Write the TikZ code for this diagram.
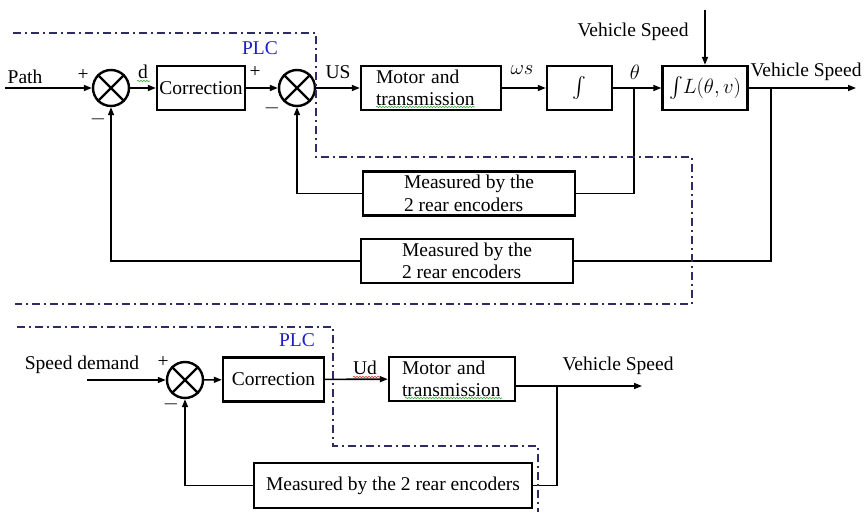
\documentclass[tikz,border=0pt]{standalone}
\usepackage{amsmath}
\usepackage{fontspec}
\setmainfont{Liberation Serif}
\usetikzlibrary{arrows.meta,decorations.pathmorphing}
\definecolor{plcblue}{RGB}{30,30,200}
\definecolor{plcline}{RGB}{45,45,100}
\definecolor{squiggreen}{RGB}{70,170,70}
\definecolor{squigred}{RGB}{210,60,60}
\begin{document}
\begin{tikzpicture}[x=1pt,y=-1pt,
    every node/.style={font=\fontsize{19.5}{22.5}\selectfont},
    blk/.style={draw,line width=2.4pt,inner sep=0pt,minimum height=44pt},
    sumnode/.style={draw,circle,line width=2.4pt,minimum size=36pt,inner sep=0pt},
    arr/.style={line width=1.6pt,-{Triangle[length=8pt,width=6pt]}},
    ln/.style={line width=1.6pt},
    plc/.style={plcline,line width=2pt,dash pattern=on 8pt off 4pt on 2pt off 4pt},
    squig/.style={line width=.6pt,decorate,decoration={snake,amplitude=.8pt,segment length=3pt}}]
\fill[white] (0,0) rectangle (864,516);
\useasboundingbox (0,0) rectangle (864,516);
\begin{scope}
    \node[sumnode] (s1) at (111,88) {};
    \node[sumnode] (s2) at (297,88) {};
    \node[blk,minimum width=88pt] (corr1) at (201,88) {Correction};
    \node[blk,minimum width=140pt,text width=110pt,align=left] (mot1) at (431,88) {Motor and\\transmission};
    \node[blk,minimum width=65pt] (int) at (579.5,88) {$\int$};
    \node[blk,minimum width=85pt] (lfun) at (705,88) {$\int\! L(\theta,v)$};
    \node[blk,minimum width=212pt,align=left] (meas1) at (469,193.5) {Measured by the\\2 rear encoders};
    \node[blk,minimum width=212pt,align=left] (meas2) at (467,261) {Measured by the\\2 rear encoders};
    \node (lpath) at (25,77) {Path};
    \node (lp1) at (83,75) {+};
    \node (lm1) at (98,119) {$-$};
    \node (ld) at (143,72) {d};
    \node (lp2) at (255,72) {+};
    \node (lm2) at (272,108) {$-$};
    \node[text=plcblue] (lplc1) at (260,48) {PLC};
    \node (lus) at (338,72) {US};
    \node (lws) at (522,70) {$\omega s$};
    \node (lth) at (635,72) {$\theta$};
    \node (lvin) at (633,32) {Vehicle Speed};
    \node (lvout) at (806,72) {Vehicle Speed};
    \coordinate (pin) at (5,88);
    \coordinate (vtop) at (705,10);
    \coordinate (pout) at (856,88);
    \coordinate (bth) at (634,88);
    \coordinate (bv) at (771,88);
    \draw[arr] (pin) -- (s1);
    \draw[arr] (s1) -- (corr1);
    \draw[arr] (corr1) -- (s2);
    \draw[arr] (s2) -- (mot1);
    \draw[arr] (mot1) -- (int);
    \draw[arr] (int) -- (lfun);
    \draw[arr] (vtop) -- (lfun);
    \draw[arr] (lfun) -- (pout);
    \draw[ln] (bth) |- (meas1);
    \draw[arr] (meas1) -| (s2);
    \draw[ln] (bv) |- (meas2);
    \draw[arr] (meas2) -| (s1);
    \draw[plc] (13,33) -| (316,157) -| (692,304) -- (15,304);
    \draw[squig,squiggreen] (137,81) -- (150,81);
    \draw[squig,squiggreen] (376,107) -- (475,107);
\end{scope}
\begin{scope}
    \node[sumnode] (s3) at (185,380) {};
    \node[blk,minimum width=101pt] (corr2) at (273.5,379.5) {Correction};
    \node[blk,minimum width=126pt,text width=100pt,align=left] (mot2) at (452,379) {Motor and\\transmission};
    \node[blk,minimum width=278pt,minimum height=45pt] (meas3) at (393,485.5) {Measured by the 2 rear encoders};
    \node (lsd) at (82,365) {Speed demand};
    \node (lp3) at (163,362) {+};
    \node (lm3) at (171,404) {$-$};
    \node[text=plcblue] (lplc2) at (297,340) {PLC};
    \node (lud) at (365,368) {Ud};
    \node (lvs) at (618,366) {Vehicle Speed};
    \coordinate (sin) at (87,380);
    \coordinate (sout) at (642,386);
    \coordinate (bvs) at (557,386);
    \draw[arr] (sin) -- (s3);
    \draw[arr] (s3) -- (corr2);
    \draw[arr] (corr2) -- (mot2);
    \draw[arr] (mot2.east |- sout) -- (sout);
    \draw[ln] (bvs) |- (meas3);
    \draw[arr] (meas3) -| (s3);
    \draw[plc] (17,327) -| (333,446) -| (538,512);
    \draw[squig,squiggreen] (405,398) -- (502,398);
    \draw[squig,squigred] (353,377) -- (380,377);
\end{scope}
\foreach \s in {s1,s2,s3}
    \draw[line width=2.4pt] (\s.45) -- (\s.225) (\s.135) -- (\s.315);
\end{tikzpicture}
\end{document}
